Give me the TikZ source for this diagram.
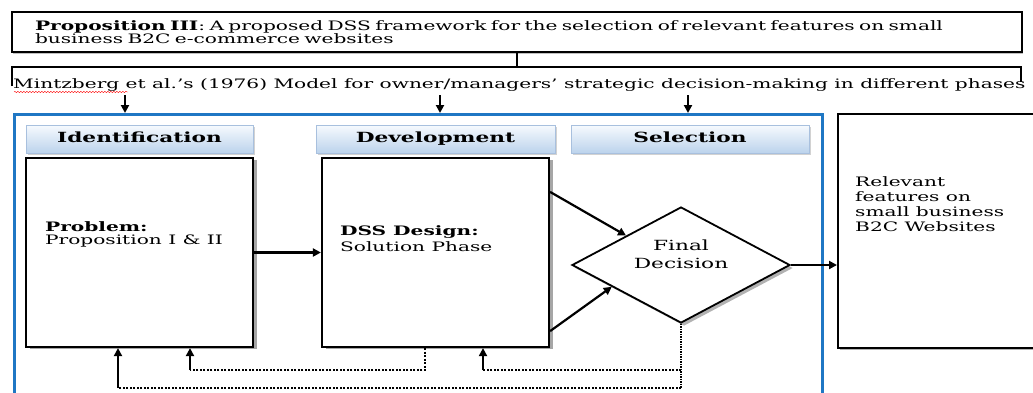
\documentclass[tikz,border=0pt]{standalone}
\usepackage{fontspec}
\setmainfont[FakeStretch=1.55]{DejaVu Serif}
\usetikzlibrary{shapes.geometric,shadows,arrows.meta,positioning,calc,decorations.pathmorphing}
\definecolor{frameblue}{RGB}{31,119,196}
\definecolor{hdrtop}{RGB}{246,250,254}
\definecolor{hdrbot}{RGB}{188,211,236}
\definecolor{hdrline}{RGB}{168,192,222}
\begin{document}
\begin{tikzpicture}[x=1pt,y=-1pt,
	txt/.style={inner sep=0pt,align=left,font=\fontsize{13}{13}\selectfont},
	hdr/.style={rectangle,draw=hdrline,top color=hdrtop,bottom color=hdrbot,minimum height=28pt,text height=10pt,text depth=3pt,font=\fontsize{14}{14}\selectfont\bfseries,drop shadow={shadow xshift=2pt,shadow yshift=-2pt,fill=gray!35,opacity=1}},
	phase/.style={rectangle,draw,line width=2.2pt,fill=white,minimum width=227pt,minimum height=189pt,drop shadow={shadow xshift=4pt,shadow yshift=-2pt,fill=gray!70,opacity=1}},
	arr/.style={line width=2.2pt,-{Triangle[length=8pt,width=8pt]}},
	fb/.style={line width=1.1pt,dash pattern=on 2pt off 1.5pt},
]
	\useasboundingbox (0,0) rectangle (1033,392);
	\clip (0,0) rectangle (1033,392);
	% proposition and model
	\node[draw,line width=1.8pt,fill=white,minimum width=1010pt,minimum height=40pt,txt,text width=964pt,inner xsep=23pt,drop shadow={shadow xshift=1pt,shadow yshift=-2pt,fill=gray!50,opacity=1}] (prop) at (517,32) {\textbf{Proposition III}: A proposed DSS framework for the selection of relevant features on small\\business B2C e-commerce websites};
	\coordinate (brk) at (prop.south |- 0,67);
	\coordinate (bl) at (12,86);
	\coordinate (br) at (1021,82);
	\draw[line width=2.2pt] (prop.south) -- (brk);
	\draw[line width=2.2pt] (bl) |- (br |- brk) -- (br);
	\node[txt,anchor=base west] (mintz) at (13,88) {Mintzberg et al.'s (1976) Model for owner/managers' strategic decision-making in different phases};
	\draw[red,decorate,decoration={snake,amplitude=0.7pt,segment length=3pt}] (14,92) -- (128,92);
	% phases
	\node[draw=frameblue,line width=2.6pt,minimum width=808pt,minimum height=320pt,anchor=north west] (frame) at (13,113) {};
	\node[hdr,minimum width=227pt] (idh) at (139.5,139) {Identification};
	\node[hdr,minimum width=239pt] (devh) at (435.5,139) {Development};
	\node[hdr,minimum width=238pt] (selh) at (690,139) {Selection};
	\foreach \h/\dx in {idh/-14.5,devh/4.5,selh/-2}
		\draw[arr] ([xshift=\dx pt]\h.north |- 0,95) -- ([xshift=\dx pt]\h.north |- frame.north);
	\node[phase] (prob) at (139.5,252.5) {};
	\node[phase] (dss) at (435.5,252.5) {};
	\node[txt,anchor=west] (probtxt) at ([xshift=20pt,yshift=18pt]prob.west) {\textbf{Problem:}\\Proposition I \& II};
	\node[txt,anchor=west] (dsstxt) at ([xshift=19pt,yshift=14pt]dss.west) {\textbf{DSS Design:}\\[3pt]Solution Phase};
	\node[diamond,draw,line width=1.8pt,fill=white,minimum width=218pt,minimum height=116pt,inner sep=0pt,drop shadow={shadow xshift=3pt,shadow yshift=-3pt,fill=gray!60,opacity=1}] (dec) at (681,265) {};
	\node[txt,align=center,font=\fontsize{14}{18}\selectfont] (dectxt) at ([yshift=11pt]dec.center) {Final\\Decision};
	\node[draw,line width=2.2pt,fill=white,minimum width=230pt,minimum height=234pt,anchor=north west,drop shadow={shadow xshift=2pt,shadow yshift=-2pt,fill=gray!60,opacity=1}] (res) at (837,113) {};
	\node[txt,anchor=north west,font=\fontsize{13}{15}\selectfont] (restxt) at (855,176) {Relevant\\features on\\small business\\B2C Websites};
	% flow
	\draw[arr] (prob.east) -- (dss.west);
	\draw[arr] ([yshift=-35pt]dss.north east) -- (dec.north west);
	\draw[arr] ([yshift=17pt]dss.south east) -- ($(dec.west)!0.37!(dec.south)$);
	\draw[arr] (dec.east) -- (dec.east -| res.west);
	% feedback
	\coordinate (d1) at (425,370);
	\coordinate (u1) at (190,370);
	\coordinate (d2) at (681,388);
	\coordinate (u2) at (118,388);
	\coordinate (u3) at (483,370);
	\draw[fb] (dss.south -| d1) -- (d1) -- (u1);
	\draw[arr] (u1) -- (u1 |- prob.south);
	\draw[fb,line width=1.8pt,dash pattern=on 1.5pt off 1pt] (dec.south) -- (d2);
	\draw[fb] (d2) -- (u2);
	\draw[arr] (u2) -- (u2 |- prob.south);
	\draw[fb] (dec.south |- u3) -- (u3);
	\draw[arr] (u3) -- (u3 |- dss.south);
\end{tikzpicture}
\end{document}
